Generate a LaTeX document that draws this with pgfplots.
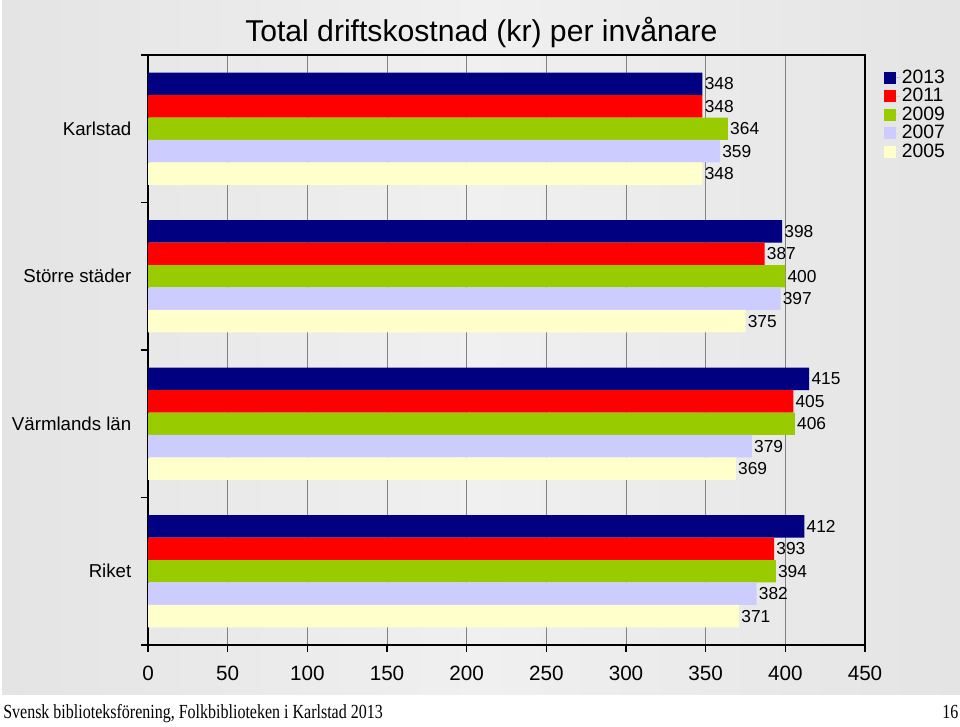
\documentclass[border=0pt]{standalone}
\usepackage{fontspec}
\setmainfont{Liberation Sans}
\newfontfamily\footfont{Liberation Serif}
\usepackage{pgfplots}
\pgfplotsset{compat=1.18}

\definecolor{c13}{RGB}{0,0,128}
\definecolor{c11}{RGB}{255,0,0}
\definecolor{c09}{RGB}{153,204,0}
\definecolor{c07}{RGB}{204,204,255}
\definecolor{c05}{RGB}{255,255,204}
\definecolor{bgL}{RGB}{228,228,228}
\definecolor{bgM}{RGB}{240,240,240}
\definecolor{gridc}{RGB}{130,130,130}

\begin{document}
\begin{tikzpicture}
% page and slide background
\fill[white] (0,0) rectangle (720pt,545.25pt);
\shade[left color=bgL, right color=bgL, middle color=bgM] (1.5pt,24pt) rectangle (720pt,545.25pt);

\begin{axis}[
    at={(111pt,61.5pt)}, anchor=south west,
    scale only axis,
    width=537.75pt, height=442.5pt,
    xbar=0pt,
    bar width=0.152,
    y dir=reverse,
    xmin=0, xmax=450,
    ymin=-0.5, ymax=3.5,
    enlarge x limits=false,
    enlarge y limits=false,
    clip=false,
    xtick={0,50,...,450},
    xtick pos=bottom,
    ytick pos=left,
    xmajorgrids=true,
    major grid style={gridc, line width=0.7pt},
    axis line style={black, line width=0.8pt},
    tick align=outside,
    major tick length=5pt,
    tick style={black, line width=0.8pt},
    xticklabel style={font=\fontsize{15.5}{16}\selectfont, yshift=-7.5pt},
    ytick={-0.5,0.5,1.5,2.5,3.5},
    yticklabels={},
    extra y ticks={0,1,2,3},
    extra y tick labels={Karlstad,Större städer,Värmlands län,Riket},
    extra y tick style={major tick length=0pt, grid=none,
        yticklabel style={font=\fontsize{14}{15}\selectfont, xshift=-9pt}},
    /pgf/number format/assume math mode=true,
    nodes near coords,
    every node near coord/.append style={font=\fontsize{13}{14}\selectfont, black, inner sep=1.5pt},
    title={Total driftskostnad (kr) per invånare},
    title style={font=\fontsize{22.6}{24}\selectfont, at={(rel axis cs:0.465,1.025)}, anchor=center},
    legend style={at={(rel axis cs:1.0265,0.978)}, anchor=north west, draw=none, fill=none,
        font=\fontsize{14.5}{15}\selectfont, row sep=0pt, inner sep=0pt,
        nodes={inner sep=1.15pt}},
    legend cell align=left,
    legend image code/.code={\path (0pt,0pt) -- (12pt,0pt);
        \fill[#1, draw=none] (0pt,-4.5pt) rectangle (9pt,4.5pt);},
]
\addplot[fill=c13, draw=none] coordinates {(348,0) (398,1) (415,2) (412,3)};
\addlegendentry{2013}
\addplot[fill=c11, draw=none] coordinates {(348,0) (387,1) (405,2) (393,3)};
\addlegendentry{2011}
\addplot[fill=c09, draw=none] coordinates {(364,0) (400,1) (406,2) (394,3)};
\addlegendentry{2009}
\addplot[fill=c07, draw=none] coordinates {(359,0) (397,1) (379,2) (382,3)};
\addlegendentry{2007}
\addplot[fill=c05, draw=none] coordinates {(348,0) (375,1) (369,2) (371,3)};
\addlegendentry{2005}
\end{axis}

\node[anchor=base west, inner sep=0pt, font=\footfont\fontsize{15}{16}\selectfont] at (2.25pt,6pt)
    {\scalebox{0.8}[1]{Svensk biblioteksförening, Folkbiblioteken i Karlstad 2013}};
\node[anchor=base east, inner sep=0pt, font=\footfont\fontsize{15}{16}\selectfont] at (719pt,6pt)
    {\scalebox{0.8}[1]{16}};
\end{tikzpicture}
\end{document}
